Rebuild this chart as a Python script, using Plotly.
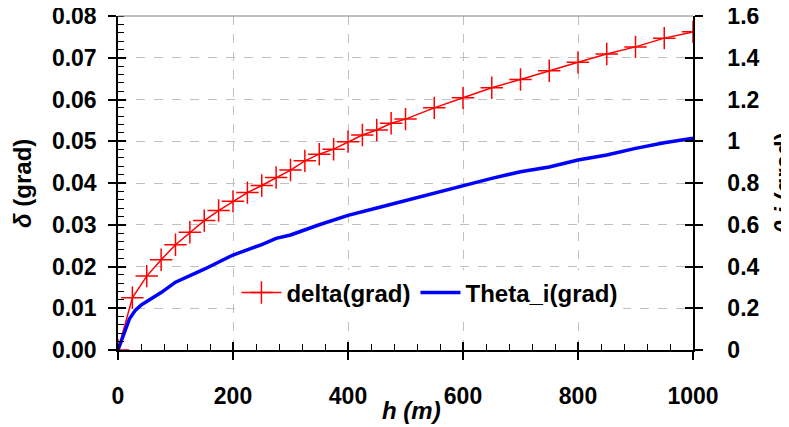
import plotly.graph_objects as go

# ---- data ----
h_delta = [0, 25, 50, 75, 100, 125, 150, 175, 200, 225, 250, 275, 300, 325, 350, 375, 400,
           425, 450, 475, 500, 550, 600, 650, 700, 750, 800, 850, 900, 950, 1000]
delta = [0, 0.0125, 0.0177, 0.0216, 0.0252, 0.0282, 0.0310, 0.0334, 0.0356, 0.0377, 0.0394,
         0.0413, 0.0431, 0.0453, 0.0469, 0.0481, 0.0499, 0.0515, 0.0527, 0.0543, 0.0553,
         0.0580, 0.0604, 0.0628, 0.0648, 0.0669, 0.0689, 0.0709, 0.0726, 0.0747, 0.0762]

h_theta = [0, 10, 20, 30, 40, 50, 75, 100, 150, 200, 250, 275, 300, 350, 400, 450, 500,
           550, 600, 650, 700, 750, 800, 850, 900, 950, 1000]
theta = [0, 0.08, 0.15, 0.19, 0.215, 0.232, 0.275, 0.325, 0.387, 0.455, 0.505, 0.535, 0.551,
         0.600, 0.645, 0.680, 0.716, 0.754, 0.786, 0.822, 0.854, 0.877, 0.910, 0.934, 0.966,
         0.993, 1.014]

FONT = "Liberation Sans, Arial, sans-serif"

fig = go.Figure()
fig.add_trace(go.Scatter(
    x=h_delta, y=delta, name="<b>delta(grad)</b>", mode="lines+markers",
    line=dict(color="#ff0000", width=1.5),
    marker=dict(symbol="cross-thin", size=16, line=dict(color="#ff0000", width=1.5)),
    yaxis="y", xaxis="x"))
fig.add_trace(go.Scatter(
    x=h_theta, y=theta, name="<b>Theta_i(grad)</b>", mode="lines",
    line=dict(color="#0000ff", width=3.5), yaxis="y2", xaxis="x"))
# dummy traces so the overlay tick axes render (inside half of crossing ticks)
fig.add_trace(go.Scatter(x=[None], y=[None], xaxis="x2", yaxis="y3", showlegend=False,
                         hoverinfo="skip"))
fig.add_trace(go.Scatter(x=[None], y=[None], xaxis="x", yaxis="y4", showlegend=False,
                         hoverinfo="skip"))

tickfont = dict(family=FONT, size=23, color="black", weight="bold")

# page body has an 8px margin, so the figure is 781x419 placed at (8, 8)
fig.update_layout(
    width=781, height=419,
    margin=dict(l=110, r=96, t=8, b=77),
    paper_bgcolor="white", plot_bgcolor="white",
    font=dict(family=FONT, color="black"),
    showlegend=True,
    legend=dict(orientation="h", x=0.206, y=0.171, xanchor="left", yanchor="middle",
                bgcolor="white", font=dict(family=FONT, size=24, color="black"),
                itemwidth=40, tracegroupgap=0),
    xaxis=dict(range=[0, 1000], dtick=200, tick0=0, showline=True, linecolor="black",
               linewidth=1.5, ticks="outside", ticklen=8, tickcolor="black", tickwidth=1.5,
               minor=dict(dtick=40, ticks="inside", ticklen=6, tickcolor="black",
                          tickwidth=1, showgrid=False),
               showgrid=True, gridcolor="#c0c0c0", griddash="dash", gridwidth=1,
               tickfont=tickfont, ticklabelstandoff=17, zeroline=False, automargin=False,
               ticklabeloverflow="allow"),
    xaxis2=dict(range=[0, 1000], dtick=200, tick0=0, overlaying="x", anchor="y",
                side="bottom", ticks="inside", ticklen=8, tickcolor="black", tickwidth=1.5,
                showticklabels=False, showgrid=False, showline=False, zeroline=False,
                automargin=False),
    yaxis=dict(range=[0, 0.08], dtick=0.01, tick0=0, tickformat=".2f", showline=True,
               linecolor="black", linewidth=1.5, ticks="outside", ticklen=8,
               tickcolor="black", tickwidth=1.5,
               minor=dict(dtick=0.002, ticks="inside", ticklen=6, tickcolor="black",
                          tickwidth=1, showgrid=False),
               showgrid=True, gridcolor="#c0c0c0", griddash="dash", gridwidth=1,
               tickfont=tickfont, ticklabelstandoff=7, zeroline=False, automargin=False,
               ticklabeloverflow="allow"),
    yaxis3=dict(range=[0, 0.08], dtick=0.01, tick0=0, overlaying="y", anchor="x",
                side="left", ticks="inside", ticklen=8, tickcolor="black", tickwidth=1.5,
                showticklabels=False, showgrid=False, showline=False, zeroline=False,
                automargin=False),
    yaxis2=dict(range=[0, 1.6], dtick=0.2, tick0=0, overlaying="y", side="right",
                anchor="x", showline=True, linecolor="black", linewidth=1.5,
                ticks="outside", ticklen=8, tickcolor="black", tickwidth=1.5,
                showgrid=False, zeroline=False, tickfont=tickfont, ticklabelstandoff=20,
                automargin=False, ticklabeloverflow="allow"),
    yaxis4=dict(range=[0, 1.6], dtick=0.2, tick0=0, overlaying="y", side="right",
                anchor="x", ticks="inside", ticklen=8, tickcolor="black", tickwidth=1.5,
                showticklabels=False, showgrid=False, showline=False, zeroline=False,
                automargin=False),
)

# top frame line
fig.add_shape(type="line", xref="paper", yref="paper", x0=0, x1=1, y0=1, y1=1,
              line=dict(color="#808080", width=1))

# axis titles
fig.add_annotation(text="<b><i>h (m)</i></b>", xref="paper", yref="paper", x=0.511,
                   y=-0.18, yanchor="middle", showarrow=False,
                   font=dict(family=FONT, size=24, color="black"))
fig.add_annotation(text="<b><i>δ</i> (grad)</b>", xref="paper", yref="paper",
                   x=-0.167, xanchor="center", y=0.5, textangle=-90, showarrow=False,
                   font=dict(family=FONT, size=24, color="black"))
fig.add_annotation(text="<b><i>θ i</i> (grad)</b>", xref="paper", yref="paper",
                   x=1.156, xanchor="center", y=0.5, textangle=-90, showarrow=False,
                   font=dict(family=FONT, size=24, color="black"))

fig.write_html("out.html")
